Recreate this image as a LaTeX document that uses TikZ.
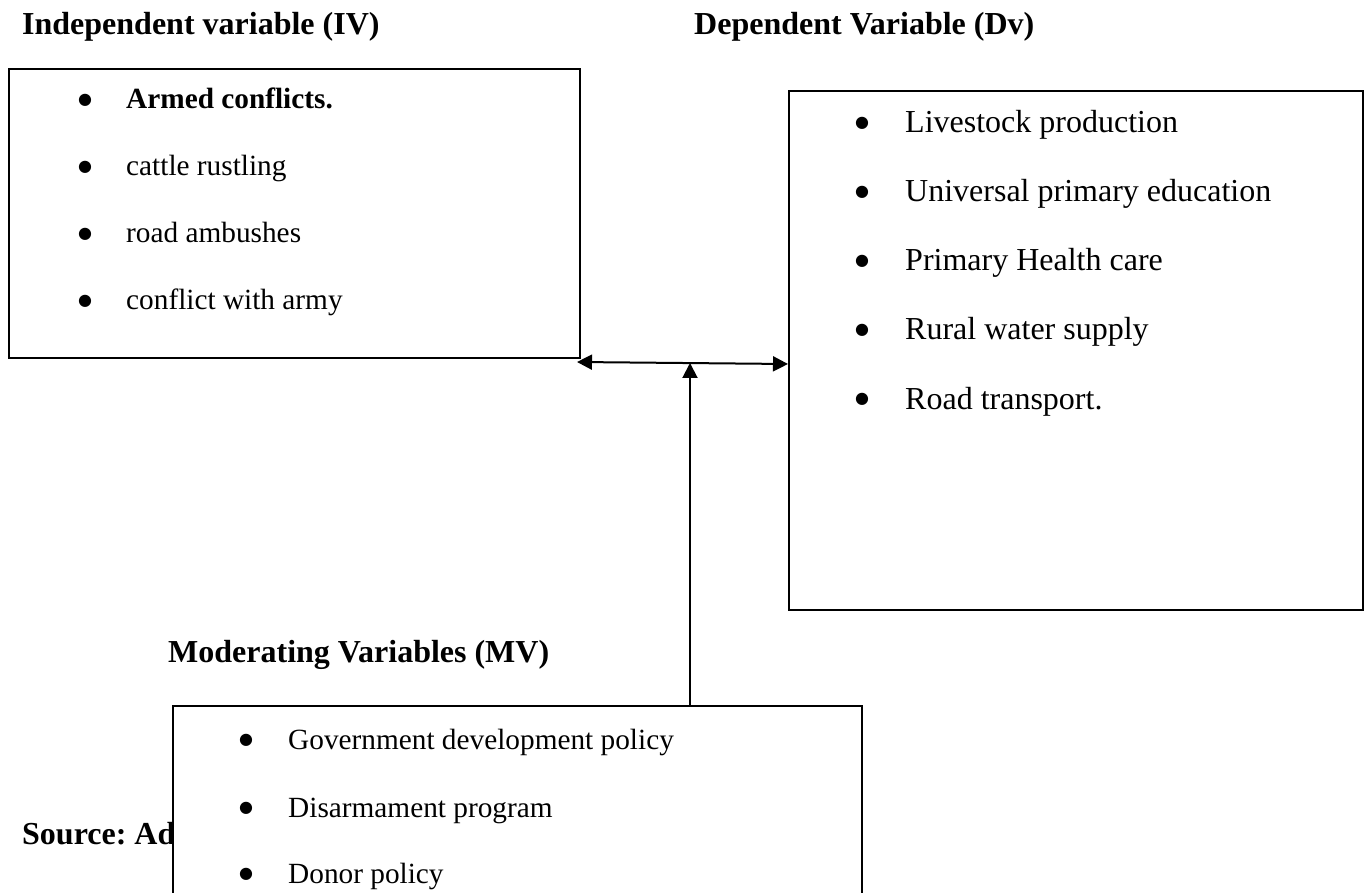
\documentclass[tikz,border=0pt]{standalone}
\usepackage{fontspec}
\setmainfont{Liberation Serif}
\newfontfamily\bulfont{DejaVu Sans}
\usetikzlibrary{arrows.meta}
\begin{document}
\frenchspacing
\begin{tikzpicture}[x=1pt,y=-1pt,
  box/.style={draw, line width=1.7pt, fill=white, inner sep=0pt},
  head/.style={anchor=base west, inner sep=0pt, font=\fontsize{32}{38}\selectfont\bfseries},
  itema/.style={anchor=base west, inner sep=0pt, font=\fontsize{29.3}{35}\selectfont},
  itemb/.style={anchor=base west, inner sep=0pt, font=\fontsize{32}{38}\selectfont},
  bul/.style={anchor=center, inner sep=0pt, font=\bulfont\fontsize{16}{18}\selectfont},
  tip/.tip={Triangle[length=15pt,width=15pt]},
  conn/.style={line width=2pt}
]
\clip (0,0) rectangle (1366,893);
\fill[white] (0,0) rectangle (1366,893);

% headings
\node[head] (hiv) at (22,35) {Independent variable (IV)};
\node[head] (hdv) at (694,35) {Dependent Variable (Dv)};
\node[head] (hmv) at (168,662) {Moderating Variables (MV)};
\node[head] (src) at (22,844) {Source: Ad};

% IV box
\node[box, anchor=north west, minimum width=571pt, minimum height=289pt] (iv) at (8,68) {};
\node[bul] (ivb1) at (85,100) {●};
\node[itema, font=\fontsize{29.3}{35}\selectfont\bfseries] (ivt1) at (126,109) {Armed conflicts.};
\node[bul] (ivb2) at (85,167) {●};
\node[itema] (ivt2) at (126,176) {cattle rustling};
\node[bul] (ivb3) at (85,234) {●};
\node[itema] (ivt3) at (126,243) {road ambushes};
\node[bul] (ivb4) at (85,301) {●};
\node[itema] (ivt4) at (126,310) {conflict with army};

% DV box
\node[box, anchor=north west, minimum width=574pt, minimum height=519pt] (dv) at (788,90) {};
\node[bul] (dvb1) at (862,123) {●};
\node[itemb] (dvt1) at (905,133) {Livestock production};
\node[bul] (dvb2) at (862,192) {●};
\node[itemb] (dvt2) at (905,202) {Universal primary education};
\node[bul] (dvb3) at (862,261) {●};
\node[itemb] (dvt3) at (905,271) {Primary Health care};
\node[bul] (dvb4) at (862,330) {●};
\node[itemb] (dvt4) at (905,340) {Rural water supply};
\node[bul] (dvb5) at (862,399) {●};
\node[itemb] (dvt5) at (905,409) {Road transport.};

% MV box (extends below the page)
\node[box, anchor=north west, minimum width=689pt, minimum height=260pt] (mv) at (172,705) {};
\node[bul] (mvb1) at (246,740) {●};
\node[itema] (mvt1) at (288,749) {Government development policy};
\node[bul] (mvb2) at (246,808) {●};
\node[itema] (mvt2) at (288,817) {Disarmament program};
\node[bul] (mvb3) at (246,874) {●};
\node[itema] (mvt3) at (288,883) {Donor policy};

% connectors
\coordinate (hl) at (577,362);
\coordinate (hr) at (788,364);
\coordinate (vt) at (690,363);
\draw[conn, tip-tip] (hl) -- (hr);
\draw[conn, -tip] (mv.north -| vt) -- (vt);
\end{tikzpicture}
\end{document}
